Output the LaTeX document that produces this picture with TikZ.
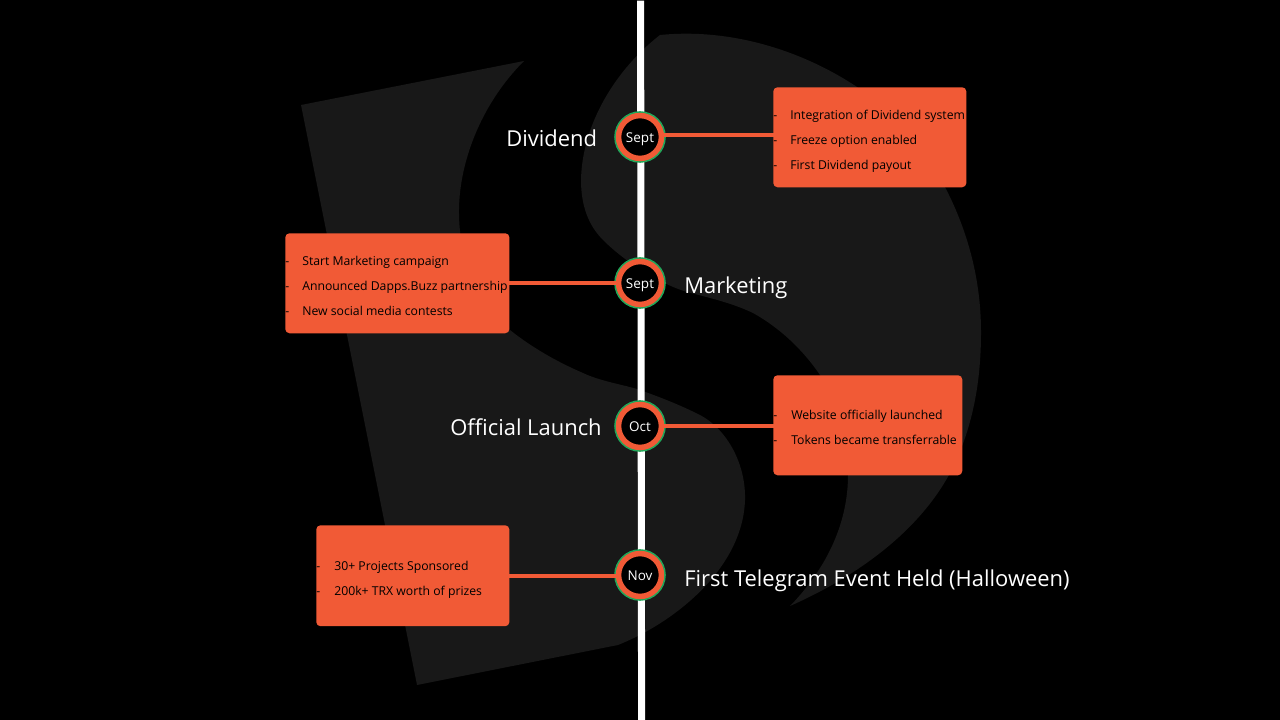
\documentclass[tikz,border=0pt]{standalone}
\usepackage{fontspec}
\setmainfont{Open Sans}
\definecolor{slideorange}{HTML}{F15A36}
\definecolor{slidegreen}{HTML}{1FA85A}
\definecolor{slidelogo}{HTML}{181818}
\tikzset{
	datering/.style={circle,fill=slidegreen,minimum size=36.7pt,inner sep=0pt},
	datedot/.style={circle,draw=slideorange,line width=3.9pt,fill=black,minimum size=30.5pt,inner sep=0pt,text=white,text height=10.3pt,text depth=1.8pt,font=\fontsize{9.6}{11}\selectfont},
	infobox/.style={fill=slideorange,rounded corners=3pt,inner sep=0pt,anchor=north west},
	itemtext/.style={anchor=base west,inner sep=0pt,text=black,font=\fontsize{8.7}{10}\selectfont},
	bigtext/.style={anchor=base west,inner sep=0pt,text=white,font=\fontsize{15.6}{18}\selectfont},
	link/.style={slideorange,line width=2.8pt,shorten >=-1pt},
	timeline/.style={white,line width=5pt}
}
\begin{document}
\begin{tikzpicture}[x=0.025cm,y=-0.025cm]
	\useasboundingbox (0,0) rectangle (1280,720);
	\fill[black] (0,0) rectangle (1280,720);

	% Draw the logo behind everything
	\fill[slidelogo] (301,105) -- (524,61)
		.. controls (480,105) and (458,165) .. (459,215)
		.. controls (460,265) and (480,308) .. (510,330)
		.. controls (530,346) and (555,361) .. (583,373)
		.. controls (600,381) and (620,384) .. (637,389)
		.. controls (660,397) and (680,405) .. (700,415)
		.. controls (728,430) and (746,465) .. (745,500)
		.. controls (743,565) and (680,620) .. (618,645)
		-- (417,685) -- cycle;
	\fill[slidelogo] (660,35)
		.. controls (730,28) and (800,50) .. (854,85)
		.. controls (895,112) and (925,150) .. (946,189)
		.. controls (968,232) and (981,280) .. (981,332)
		.. controls (981,375) and (975,415) .. (959,454)
		.. controls (930,525) and (860,575) .. (790,606)
		.. controls (825,570) and (848,525) .. (848,475)
		.. controls (848,435) and (838,400) .. (820,375)
		.. controls (803,350) and (780,328) .. (753,313)
		.. controls (732,303) and (710,298) .. (687,292)
		.. controls (660,284) and (625,262) .. (603,240)
		.. controls (588,225) and (581,205) .. (581,180)
		.. controls (582,125) and (615,70) .. (660,35) -- cycle;

	% Draw the time line
	\coordinate (lineTop) at (640.6,0.7);
	\coordinate (lineEnd) at (641.6,720);
	\draw[timeline] (lineTop) -- (lineEnd);

	% Draw the date dots
	\node[datering] (ringA) at (640,137) {};
	\node[datering] (ringB) at (640,283) {};
	\node[datering] (ringC) at (640,426) {};
	\node[datering] (ringD) at (640,575) {};
	\node[datedot] (dotA) at (640,137) {Sept};
	\node[datedot] (dotB) at (640,283) {Sept};
	\node[datedot] (dotC) at (640,426) {Oct};
	\node[datedot] (dotD) at (640,575) {Nov};

	% Draw the boxes
	\node[infobox,minimum width=137.3pt,minimum height=71.1pt] (boxA) at (773,87) {};
	\node[infobox,minimum width=159.4pt,minimum height=71.1pt] (boxB) at (285,233) {};
	\node[infobox,minimum width=134.4pt,minimum height=71.1pt] (boxC) at (773,375) {};
	\node[infobox,minimum width=137.3pt,minimum height=71.8pt] (boxD) at (316,525) {};

	\draw[link] ([yshift=1.4pt]dotA.east) -- ([yshift=1.4pt]dotA.east -| boxA.west);
	\draw[link] (dotB.west) -- (dotB.west -| boxB.east);
	\draw[link] (dotC.east) -- (dotC.east -| boxC.west);
	\draw[link] ([yshift=-0.7pt]dotD.west) -- ([yshift=-0.7pt]dotD.west -| boxD.east);

	\node[bigtext] (titleA) at (506,147) {Dividend};
	\node[bigtext] (titleB) at (684,294) {Marketing};
	\node[bigtext] (titleC) at (450,435.4) {Official Launch};
	\node[bigtext] (titleD) at (684,586) {First Telegram Event Held (Halloween)};

	\node[itemtext] (dashA1) at (773,119.5) {-};
	\node[itemtext] (itemA1) at (790,119.5) {Integration of Dividend system};
	\node[itemtext] (dashA2) at (773,144.5) {-};
	\node[itemtext] (itemA2) at (790,144.5) {Freeze option enabled};
	\node[itemtext] (dashA3) at (773,169.5) {-};
	\node[itemtext] (itemA3) at (790,169.5) {First Dividend payout};

	\node[itemtext] (dashB1) at (285,266) {-};
	\node[itemtext] (itemB1) at (302,266) {Start Marketing campaign};
	\node[itemtext] (dashB2) at (285,291) {-};
	\node[itemtext] (itemB2) at (302,291) {Announced Dapps.Buzz partnership};
	\node[itemtext] (dashB3) at (285,316) {-};
	\node[itemtext] (itemB3) at (302,316) {New social media contests};

	\node[itemtext] (dashC1) at (773,419) {-};
	\node[itemtext] (itemC1) at (791,419) {Website officially launched};
	\node[itemtext] (dashC2) at (773,444) {-};
	\node[itemtext] (itemC2) at (791,444) {Tokens became transferrable};

	\node[itemtext] (dashD1) at (316,570) {-};
	\node[itemtext] (itemD1) at (334,570) {30+ Projects Sponsored};
	\node[itemtext] (dashD2) at (316,595) {-};
	\node[itemtext] (itemD2) at (334,595) {200k+ TRX worth of prizes};
\end{tikzpicture}
\end{document}
